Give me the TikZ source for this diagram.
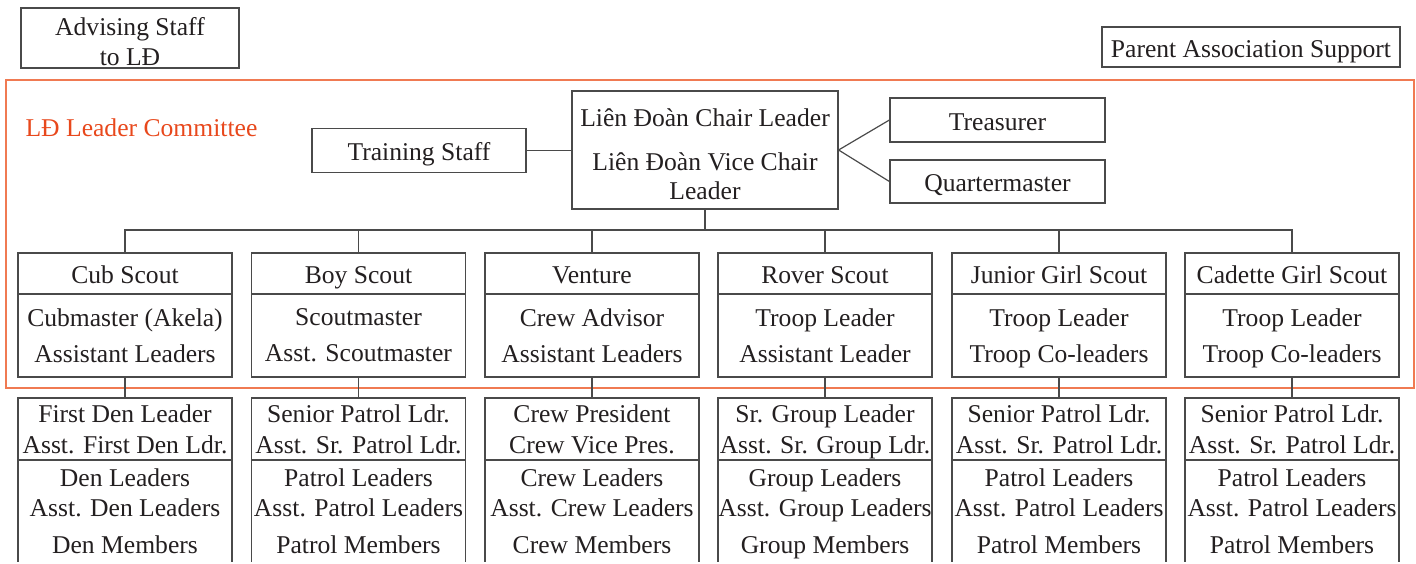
\documentclass[tikz,border=0pt]{standalone}
\usepackage{fontspec}
\setmainfont{Liberation Serif}
\definecolor{boxline}{HTML}{4A4A4A}
\definecolor{cmtline}{HTML}{F07A52}
\definecolor{cmttext}{HTML}{E8481C}
\definecolor{ink}{HTML}{231F20}

\begin{document}
\begin{tikzpicture}[x=1pt, y=-1pt, line width=1.2pt,
		every node/.style={font=\fontsize{25.6}{30}\selectfont, text=ink, inner sep=0pt, align=center,
			text depth=0pt, execute at begin node={\rule{0pt}{20pt}}},
		box/.style={draw=boxline, rectangle},
		unit/.style={box, minimum width=214pt},
		link/.style={draw=boxline}]
		\useasboundingbox (0,0) rectangle (1416,563);
		\clip (0,0) rectangle (1416,561);
		% top boxes
		\node[box, minimum width=218pt, minimum height=60pt] (advising) at (130,38) {\rule{0pt}{25pt}Advising Staff\\to LĐ};
		\node[box, minimum width=298pt, minimum height=40pt] (parent) at (1251,47) {Parent Association Support};
		% committee frame
		\draw[cmtline, line width=1.3pt] (6,80) rectangle (1414,388);
		\node[anchor=west, text=cmttext] (cmtlabel) at (25,126) {LĐ Leader Committee};
		\node[box, minimum width=266pt, minimum height=118pt] (chair) at (705,150) {\rule{0pt}{26pt}Liên Đoàn Chair Leader\\[14pt]Liên Đoàn Vice Chair\\[-1pt]Leader};
		\node[box, minimum width=214pt, minimum height=44pt] (training) at (419,150.5) {Training Staff};
		\node[box, minimum width=215pt, minimum height=44pt] (treasurer) at (997.5,120) {Treasurer};
		\node[box, minimum width=215pt, minimum height=43pt] (quartermaster) at (997.5,181.5) {Quartermaster};
		\draw[link] (training.east) -- (training.east -| chair.west);
		\coordinate (fan) at (chair.east);
		\draw[link] (treasurer.west) -- (fan) -- (quartermaster.west);
		\coordinate (bus) at (705,230);
		\draw[link] (chair.south) -- (bus);
		% sections
		\node[unit, minimum height=41pt] (cubT) at (125,273.5) {Cub Scout};
		\node[unit, minimum height=83pt] (cubL) at (125,335.5) {Cubmaster (Akela)\\[6pt]Assistant Leaders};
		\node[unit, minimum height=62pt] (cubP) at (125,429) {First Den Leader\\[1pt]Asst. First Den Ldr.};
		\node[unit, minimum height=103pt] (cubM) at (125,511.5) {Den Leaders\\Asst. Den Leaders\\[7pt]Den Members};
		\node[unit, minimum height=41pt] (boyT) at (358.5,273.5) {Boy Scout};
		\node[unit, minimum height=83pt] (boyL) at (358.5,335.5) {Scoutmaster\\[6pt]Asst. Scoutmaster};
		\node[unit, minimum height=62pt] (boyP) at (358.5,429) {Senior Patrol Ldr.\\[1pt]Asst. Sr. Patrol Ldr.};
		\node[unit, minimum height=103pt] (boyM) at (358.5,511.5) {Patrol Leaders\\Asst. Patrol Leaders\\[7pt]Patrol Members};
		\node[unit, minimum height=41pt] (ventureT) at (592,273.5) {Venture};
		\node[unit, minimum height=83pt] (ventureL) at (592,335.5) {Crew Advisor\\[6pt]Assistant Leaders};
		\node[unit, minimum height=62pt] (ventureP) at (592,429) {Crew President\\[1pt]Crew Vice Pres.};
		\node[unit, minimum height=103pt] (ventureM) at (592,511.5) {Crew Leaders\\Asst. Crew Leaders\\[7pt]Crew Members};
		\node[unit, minimum height=41pt] (roverT) at (825,273.5) {Rover Scout};
		\node[unit, minimum height=83pt] (roverL) at (825,335.5) {Troop Leader\\[6pt]Assistant Leader};
		\node[unit, minimum height=62pt] (roverP) at (825,429) {Sr. Group Leader\\[1pt]Asst. Sr. Group Ldr.};
		\node[unit, minimum height=103pt] (roverM) at (825,511.5) {Group Leaders\\Asst. Group Leaders\\[7pt]Group Members};
		\node[unit, minimum height=41pt] (juniorT) at (1059,273.5) {Junior Girl Scout};
		\node[unit, minimum height=83pt] (juniorL) at (1059,335.5) {Troop Leader\\[6pt]Troop Co-leaders};
		\node[unit, minimum height=62pt] (juniorP) at (1059,429) {Senior Patrol Ldr.\\[1pt]Asst. Sr. Patrol Ldr.};
		\node[unit, minimum height=103pt] (juniorM) at (1059,511.5) {Patrol Leaders\\Asst. Patrol Leaders\\[7pt]Patrol Members};
		\node[unit, minimum height=41pt] (cadetteT) at (1292,273.5) {Cadette Girl Scout};
		\node[unit, minimum height=83pt] (cadetteL) at (1292,335.5) {Troop Leader\\[6pt]Troop Co-leaders};
		\node[unit, minimum height=62pt] (cadetteP) at (1292,429) {Senior Patrol Ldr.\\[1pt]Asst. Sr. Patrol Ldr.};
		\node[unit, minimum height=103pt] (cadetteM) at (1292,511.5) {Patrol Leaders\\Asst. Patrol Leaders\\[7pt]Patrol Members};
		% connectors
		\draw[link] (cubT.north) |- (bus);
		\draw[link] (boyT.north) |- (bus);
		\draw[link] (ventureT.north) |- (bus);
		\draw[link] (roverT.north) |- (bus);
		\draw[link] (juniorT.north) |- (bus);
		\draw[link] (cadetteT.north) |- (bus);
		\draw[link] (cubL.south) -- (cubP.north);
		\draw[link] (boyL.south) -- (boyP.north);
		\draw[link] (ventureL.south) -- (ventureP.north);
		\draw[link] (roverL.south) -- (roverP.north);
		\draw[link] (juniorL.south) -- (juniorP.north);
		\draw[link] (cadetteL.south) -- (cadetteP.north);
	\end{tikzpicture}
\end{document}
